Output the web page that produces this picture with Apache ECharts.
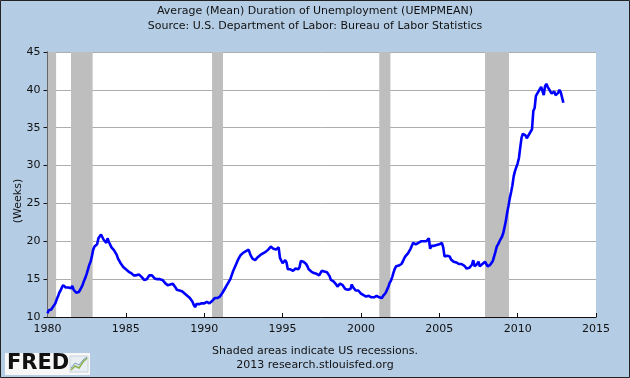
<!DOCTYPE html>
<html>
<head>
<meta charset="utf-8">
<script src="https://cdn.jsdelivr.net/npm/echarts@6/dist/echarts.min.js"></script>
<style>
html,body{margin:0;padding:0;background:#B4CDE5;}
#chart{width:630px;height:378px;}
</style>
</head>
<body>
<div id="chart"></div>
<script>
// Monthly values, Jan 1980 .. Dec 2012 (weeks)
var startYear = 1980;
var values1980s = [
  10.5, 10.9, 11.1, 11.0, 11.3, 11.5, 11.8, 12.3, 12.7, 13.2, 13.5, 13.9, // 1980
  14.2, 14.1, 13.9, 13.8, 13.9, 14.0, 13.8, 14.1, 13.6, 13.4, 13.2, 13.1, // 1981
  13.3, 13.6, 13.9, 14.3, 14.8, 15.2, 15.7, 16.3, 16.9, 17.3, 18.0, 18.9, // 1982
  19.3, 19.5, 19.6, 20.4, 20.6, 20.9, 21.1, 20.2, 20.4, 19.8, 20.4, 19.9, // 1983
  20.0, 19.2, 19.3, 18.8, 18.6, 18.2, 17.7, 17.5, 17.1, 16.9, 16.6, 16.5, // 1984
  16.3, 16.2, 16.0, 15.9, 15.8, 15.7, 15.5, 15.4, 15.5, 15.3, 15.6, 15.5, // 1985
  15.3, 15.1, 14.9, 14.8, 15.0, 15.2, 15.5, 15.7, 15.5, 15.3, 15.1, 15.0, // 1986
  15.0, 14.9, 15.0, 14.8, 14.9, 14.7, 14.5, 14.3, 14.2, 14.4, 14.3, 14.4, // 1987
  14.4, 14.2, 13.9, 13.6, 13.7, 13.5, 13.6, 13.4, 13.6, 13.1, 12.9, 12.8, // 1988
  12.6, 12.5, 12.3, 12.0, 11.6, 11.3, 11.7, 11.9, 11.7, 11.9, 11.8, 11.9  // 1989
];
var values1990s = [
  11.8, 11.9, 12.0, 11.9, 11.8, 12.0, 12.1, 12.2, 12.5, 12.3, 12.5, 12.6, // 1990
  12.7, 12.9, 13.2, 13.5, 13.8, 14.1, 14.4, 14.7, 15.0, 15.5, 16.0, 16.4, // 1991
  16.8, 17.2, 17.6, 17.9, 18.2, 18.3, 18.5, 18.6, 18.7, 18.8, 18.9, 18.4, // 1992
  18.0, 17.7, 17.6, 17.5, 17.7, 17.9, 18.1, 18.2, 18.3, 18.4, 18.5, 18.6, // 1993
  18.7, 18.9, 19.1, 19.3, 19.2, 19.0, 19.0, 18.9, 19.1, 19.2, 17.8, 17.6, // 1994
  17.1, 17.0, 17.5, 17.2, 16.3, 16.2, 16.3, 16.2, 16.1, 16.3, 16.4, 16.3, // 1995
  16.3, 16.6, 17.4, 17.5, 17.3, 17.5, 17.0, 16.7, 16.3, 16.1, 16.0, 15.8, // 1996
  15.8, 15.7, 15.7, 15.6, 15.5, 15.4, 16.1, 16.3, 16.0, 16.1, 15.9, 15.8, // 1997
  15.4, 14.9, 14.8, 14.7, 14.7, 14.3, 14.0, 14.2, 14.4, 14.3, 14.2, 14.0, // 1998
  13.7, 13.8, 13.6, 13.8, 13.7, 14.3, 13.9, 13.7, 13.5, 13.4, 13.5, 13.3  // 1999
];
var values2000s = [
  13.1, 13.0, 12.9, 12.8, 12.7, 12.6, 12.8, 12.9, 12.6, 12.5, 12.6, 12.7, // 2000
  12.8, 12.7, 12.6, 12.4, 12.5, 12.8, 12.9, 13.2, 13.6, 14.0, 14.5, 14.8, // 2001
  15.3, 15.9, 16.4, 16.7, 16.9, 16.8, 16.9, 17.0, 17.3, 17.7, 18.0, 18.2, // 2002
  18.4, 18.6, 19.0, 19.4, 19.8, 19.7, 19.6, 19.7, 19.8, 19.9, 20.0, 19.9, // 2003
  20.0, 19.9, 20.0, 20.1, 20.4, 19.0, 19.4, 19.5, 19.4, 19.6, 19.5, 19.7, // 2004
  19.6, 19.7, 19.8, 19.2, 18.0, 17.8, 18.1, 18.2, 18.0, 17.6, 17.5, 17.3, // 2005
  17.1, 17.2, 17.3, 17.0, 16.9, 17.0, 17.0, 16.8, 16.6, 16.4, 16.2, 16.5, // 2006
  16.6, 16.9, 17.5, 16.7, 16.8, 17.0, 17.3, 16.7, 16.9, 17.0, 17.1, 17.3, // 2007
  17.4, 16.7, 16.8, 16.9, 17.0, 17.4, 18.0, 18.6, 19.3, 19.6, 19.8, 20.3, // 2008
  20.6, 21.1, 21.9, 22.7, 23.8, 24.7, 25.7, 26.5, 27.4, 28.6, 29.3, 29.8  // 2009
];
var values2010s = [
  30.3, 31.0, 32.4, 33.7, 34.2, 34.4, 34.0, 33.6, 33.8, 34.2, 34.5, 34.8, // 2010
  37.2, 37.6, 39.2, 39.4, 39.8, 40.0, 40.4, 40.6, 39.3, 40.5, 40.8, 40.4, // 2011
  40.1, 39.9, 39.5, 39.7, 39.8, 39.3, 39.4, 39.6, 40.0, 39.7, 39.8, 38.3  // 2012
];
// Recessions [start, end] in fractional years
var recessions = [
  [1980.0, 1980.55],
  [1981.5, 1982.88],
  [1990.5, 1991.2],
  [2001.17, 2001.88],
  [2007.92, 2009.45]
];
var xTicks = [1980, 1985, 1990, 1995, 2000, 2005, 2010, 2015];
var yTicks = [10, 15, 20, 25, 30, 35, 40, 45];

var allValues = values1980s.concat(values1990s, values2000s, values2010s);
var seriesData = allValues.map(function (v, i) { return [startYear + i / 12, v]; });
var areas = recessions.map(function (r) { return [{ xAxis: r[0] }, { xAxis: r[1] }]; });

var font = 'DejaVu Sans';
var chart = echarts.init(document.getElementById('chart'), null, { renderer: 'canvas' });
chart.setOption({
  backgroundColor: '#B4CDE5',
  animation: false,
  grid: { left: 47.5, right: 34, top: 52, bottom: 61, show: true, backgroundColor: '#FFFFFF', borderWidth: 0 },
  xAxis: {
    type: 'value',
    min: xTicks[0], max: xTicks[xTicks.length - 1], interval: 5,
    axisLine: { show: true, onZero: false, lineStyle: { color: '#111', width: 1 } },
    axisTick: { show: true, inside: true, length: 4, lineStyle: { color: '#111' } },
    axisLabel: { color: '#111', fontFamily: font, fontSize: 11, margin: 7, formatter: function (v) { return String(v); } },
    splitLine: { show: false }
  },
  yAxis: {
    type: 'value',
    min: yTicks[0], max: yTicks[yTicks.length - 1], interval: 5,
    axisLine: { show: true, lineStyle: { color: '#111', width: 1 } },
    axisTick: { show: true, inside: false, length: 4, lineStyle: { color: '#111' } },
    axisLabel: { color: '#111', fontFamily: font, fontSize: 11, margin: 7 },
    splitLine: { show: true, lineStyle: { color: '#ADADAD', width: 1 } }
  },
  series: [{
    type: 'line',
    data: seriesData,
    showSymbol: false,
    symbol: 'none',
    lineStyle: { color: '#0000FF', width: 2.6 },
    z: 3,
    markArea: {
      silent: true,
      itemStyle: { color: '#BEBEBE', opacity: 1 },
      data: areas
    }
  }],
  graphic: [
    { type: 'text', left: 'center', top: 6, style: { text: 'Average (Mean) Duration of Unemployment (UEMPMEAN)', fill: '#111', font: '11px "DejaVu Sans"' } },
    { type: 'text', left: 'center', top: 21, style: { text: 'Source: U.S. Department of Labor: Bureau of Labor Statistics', fill: '#111', font: '11px "DejaVu Sans"' } },
    { type: 'text', x: 18, y: 201, rotation: Math.PI / 2, style: { text: '(Weeks)', fill: '#111', font: '11px "DejaVu Sans"', align: 'center', verticalAlign: 'middle' } },
    { type: 'text', left: 'center', top: 346, style: { text: 'Shaded areas indicate US recessions.', fill: '#111', font: '11px "DejaVu Sans"' } },
    { type: 'text', left: 'center', top: 360, style: { text: '2013 research.stlouisfed.org', fill: '#111', font: '11px "DejaVu Sans"' } },
    { type: 'rect', shape: { x: 5, y: 353, width: 85, height: 22 }, style: { fill: '#F7F7F7' } },
    { type: 'text', x: 7, y: 364, style: { text: 'FRED', fill: '#111', font: 'bold 21px "DejaVu Sans"', verticalAlign: 'middle' } },
    { type: 'rect', shape: { x: 70, y: 356, width: 18, height: 16 }, style: { fill: '#E8EEF2', stroke: '#C8D4DC', lineWidth: 1 } },
    { type: 'polyline', shape: { points: [[71, 370], [75, 366], [79, 368], [83, 362], [87, 358]] }, style: { stroke: '#8AB04A', lineWidth: 1.5, fill: 'none' } },
    { type: 'polyline', shape: { points: [[71, 368], [75, 363], [79, 365], [83, 360], [87, 357]] }, style: { stroke: '#7A9CC0', lineWidth: 1, fill: 'none' } },
    { type: 'rect', shape: { x: 0.5, y: 0.5, width: 629, height: 377 }, style: { fill: 'none', stroke: '#222', lineWidth: 1 }, z: 100 }
  ]
});
</script>
</body>
</html>
